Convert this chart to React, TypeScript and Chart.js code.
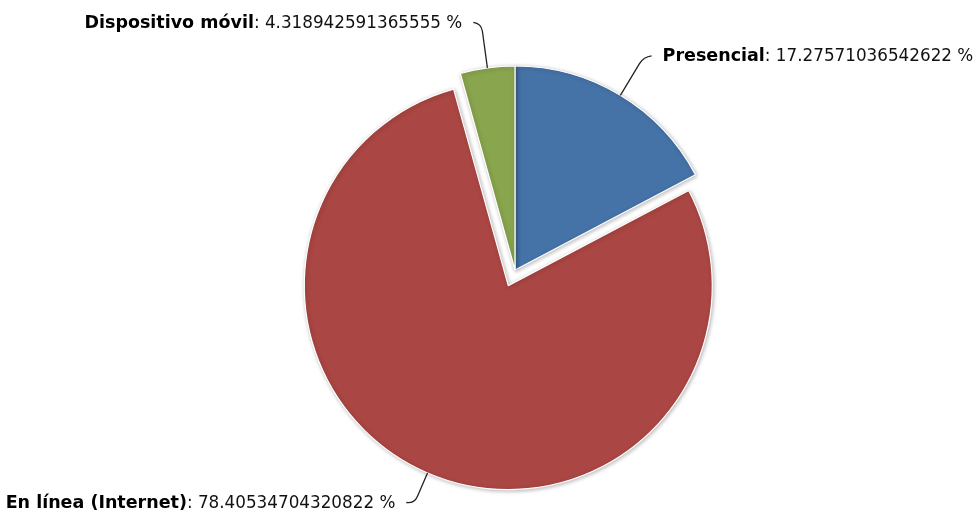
import React, { useEffect, useRef } from "react";
import { Chart, registerables } from "chart.js";

Chart.register(...registerables);

const categories = ["Presencial", "En línea (Internet)", "Dispositivo móvil"];
const values = [17.27571036542622, 78.40534704320822, 4.318942591365555];
const colors = ["#4572A7", "#AA4643", "#89A54E"];
const sliced = [false, true, false];

const SLICE_OFFSET = 17;
const FONT = '"DejaVu Sans", Verdana, sans-serif';
const BOLD_FONT = "bold 17.5px " + FONT;
const VALUE_FONT = "16.8px " + FONT;

const piePlugin = {
  id: "hcPie",
  afterUpdate(chart: any) {
    const meta = chart.getDatasetMeta(0);
    meta.data.forEach((arc: any, i: number) => {
      if (sliced[i]) {
        const mid = (arc.startAngle + arc.endAngle) / 2;
        arc.x += Math.cos(mid) * SLICE_OFFSET;
        arc.y += Math.sin(mid) * SLICE_OFFSET;
      }
    });
  },
  beforeDatasetsDraw(chart: any) {
    const ctx = chart.ctx;
    ctx.save();
    ctx.shadowColor = "rgba(0,0,0,0.28)";
    ctx.shadowBlur = 4;
    ctx.shadowOffsetX = 1;
    ctx.shadowOffsetY = 1;
  },
  afterDatasetsDraw(chart: any) {
    const ctx = chart.ctx;
    ctx.restore();
    const meta = chart.getDatasetMeta(0);
    const H = chart.height;
    meta.data.forEach((arc: any, i: number) => {
      const mid = (arc.startAngle + arc.endAngle) / 2;
      const r = arc.outerRadius;
      const c = Math.cos(mid);
      const s = Math.sin(mid);
      const P = { x: arc.x + c * r, y: arc.y + s * r };
      let d = r + 45;
      const maxY = H - 8.5;
      if (arc.y + s * d > maxY) d = (maxY - arc.y) / s;
      const B = { x: arc.x + c * d, y: arc.y + s * d };
      const side = c >= 0 ? 1 : -1;
      const E = { x: B.x + side * 8, y: B.y - 1 };
      // connector
      ctx.save();
      ctx.strokeStyle = "#222";
      ctx.lineWidth = 1.3;
      ctx.beginPath();
      ctx.moveTo(E.x, E.y);
      const len = Math.hypot(P.x - B.x, P.y - B.y);
      const q = { x: B.x + ((P.x - B.x) / len) * 8, y: B.y + ((P.y - B.y) / len) * 8 };
      ctx.quadraticCurveTo(B.x, B.y, q.x, q.y);
      ctx.lineTo(P.x, P.y);
      ctx.stroke();
      ctx.restore();
      // label
      const name = categories[i];
      const val = ": " + String(values[i]) + " %";
      ctx.save();
      ctx.textBaseline = "alphabetic";
      ctx.font = BOLD_FONT;
      const w1 = ctx.measureText(name).width;
      ctx.font = VALUE_FONT;
      const w2 = ctx.measureText(val).width;
      const tx = side > 0 ? E.x + 11 : E.x - 11 - w1 - w2;
      const ty = E.y + 5.5;
      ctx.fillStyle = "#000";
      ctx.font = BOLD_FONT;
      ctx.fillText(name, tx, ty);
      ctx.font = VALUE_FONT;
      ctx.fillStyle = "#111";
      ctx.fillText(val, tx + w1, ty);
      ctx.restore();
    });
  },
};

export default function App() {
  const ref = useRef<HTMLCanvasElement | null>(null);
  useEffect(() => {
    if (!ref.current) return;
    const chart = new Chart(ref.current, {
      type: "pie",
      data: {
        labels: categories,
        datasets: [
          {
            data: values,
            backgroundColor: colors,
            borderColor: "#ffffff",
            borderWidth: 1.2,
            radius: 204,
          } as any,
        ],
      },
      options: {
        animation: false,
        responsive: false,
        maintainAspectRatio: false,
        layout: { padding: { left: 56, top: 28, right: 0, bottom: 0 } },
        plugins: {
          legend: { display: false },
          tooltip: { enabled: false },
        },
        events: [],
      },
      plugins: [piePlugin],
    });
    return () => chart.destroy();
  }, []);
  return (
    <div style={{ position: "absolute", left: 0, top: 0, width: 974, height: 512, background: "#fff" }}>
      <canvas ref={ref} width={974} height={512} style={{ width: 974, height: 512, display: "block" }} />
    </div>
  );
}
